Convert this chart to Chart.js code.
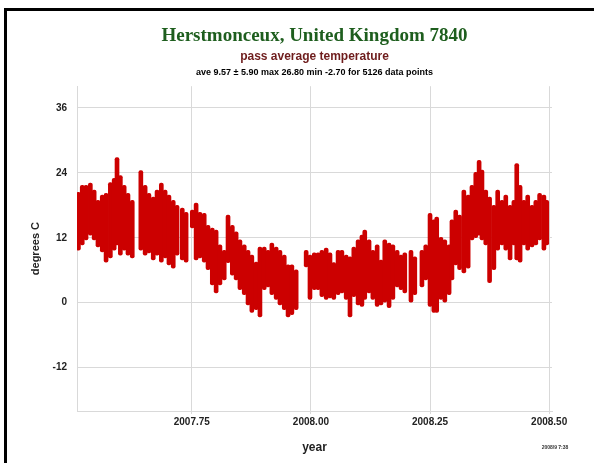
<!DOCTYPE html>
<html>
<head>
<meta charset="utf-8">
<script src="https://cdn.jsdelivr.net/npm/chart.js@4.4.1/dist/chart.umd.min.js"></script>
<style>
  html, body { margin: 0; padding: 0; background: #fff; overflow: hidden; }
  #wrap { position: relative; width: 594px; height: 463px; }
  #frame { position: absolute; left: 4px; top: 8px; width: 700px; height: 600px;
           border-left: 3px solid #000; border-top: 3px solid #000; pointer-events: none; }
</style>
</head>
<body>
<div id="wrap">
  <canvas id="chart" width="594" height="463"></canvas>
  <div id="frame"></div>
</div>
<script>
// decimal year of each column of passes, and the low / high temperature in it (deg C)
var years = [
  2007.512, 2007.520, 2007.528, 2007.537, 2007.545, 2007.553, 2007.562, 2007.570, 2007.579, 2007.587,
  2007.593, 2007.600, 2007.608, 2007.616, 2007.625,
  2007.643, 2007.652, 2007.660, 2007.669, 2007.677, 2007.686, 2007.694, 2007.702, 2007.711, 2007.719,
  2007.730, 2007.738, 2007.751,
  2007.759, 2007.767, 2007.776, 2007.784, 2007.793, 2007.801, 2007.809, 2007.818, 2007.826, 2007.835,
  2007.843, 2007.851, 2007.860, 2007.868, 2007.876, 2007.885, 2007.893, 2007.902, 2007.910, 2007.918,
  2007.927, 2007.935, 2007.944, 2007.952, 2007.960, 2007.969,
  2007.990, 2007.998, 2008.007, 2008.015, 2008.023, 2008.032, 2008.040, 2008.048, 2008.057, 2008.065,
  2008.074, 2008.082, 2008.090, 2008.099, 2008.107, 2008.113, 2008.122, 2008.130, 2008.139, 2008.147,
  2008.155, 2008.164, 2008.172, 2008.181, 2008.189, 2008.197, 2008.210, 2008.218, 2008.233, 2008.241,
  2008.250, 2008.258,
  2008.264, 2008.273, 2008.281, 2008.290, 2008.296, 2008.304, 2008.312, 2008.321, 2008.330, 2008.338,
  2008.346, 2008.353, 2008.359, 2008.367, 2008.375, 2008.384, 2008.392, 2008.401, 2008.409, 2008.418,
  2008.426, 2008.432, 2008.439, 2008.447, 2008.455, 2008.464, 2008.472, 2008.480, 2008.489, 2008.495
];
var lowTemp = [
  9.7, 10.7, 11.6, 12.5, 11.6, 10.3, 9.4, 7.5, 8.3, 9.7,
  10.7, 8.8, 9.7, 8.8, 8.3,
  9.7, 8.8, 9.2, 7.9, 8.8, 7.5, 8.3, 7.0, 6.4, 8.8,
  7.9, 7.5, 13.8,
  7.9, 8.3, 7.5, 6.1, 3.3, 1.8, 3.3, 4.2, 7.4, 5.1,
  4.2, 2.4, 1.5, -0.4, -1.8, -1.3, -2.6, 2.4, 2.9, 1.5,
  0.6, -0.4, -1.3, -2.6, -2.2, -1.3,
  6.6, 0.6, 2.4, 2.4, 1.1, 0.6, 0.9, 0.6, 1.5, 1.8,
  0.6, -2.6, 1.1, -0.4, -0.7, 0.6, 1.8, 0.6, -0.7, -0.4,
  0.0, -0.9, 0.6, 2.9, 2.4, 1.8, 0.0, 1.5, 2.9, 4.2,
  -0.7, -1.8,
  -1.8, 0.6, 0.0, 1.5, 4.2, 7.0, 6.1, 5.5, 6.4, 11.6,
  12.0, 12.5, 11.6, 10.7, 3.7, 6.1, 9.7, 10.7, 9.7, 7.9,
  10.7, 7.9, 7.5, 10.7, 9.7, 10.3, 10.7, 11.6, 9.7, 10.7
];
var highTemp = [
  20.4, 21.7, 21.7, 22.1, 20.8, 18.9, 19.9, 20.2, 22.2, 23.0,
  26.8, 23.5, 21.7, 20.2, 18.9,
  24.4, 21.7, 20.2, 19.5, 20.8, 22.1, 20.8, 19.9, 18.9, 18.0,
  17.5, 16.7, 17.1,
  18.4, 16.7, 16.5, 14.3, 13.8, 13.4, 10.7, 9.7, 16.2, 14.3,
  13.1, 11.6, 10.7, 9.7, 8.8, 7.5, 10.3, 10.3, 9.7, 11.0,
  10.3, 9.7, 8.8, 7.0, 7.0, 6.1,
  9.7, 8.8, 9.2, 9.2, 9.7, 10.1, 9.2, 7.4, 9.7, 9.7,
  8.8, 8.5, 10.3, 11.6, 12.5, 13.4, 11.6, 9.7, 10.7, 7.9,
  11.6, 11.0, 10.7, 9.7, 8.8, 9.2, 9.7, 8.5, 9.7, 10.7,
  16.5, 15.3,
  15.8, 12.1, 11.6, 10.7, 15.3, 17.1, 16.2, 20.8, 19.9, 21.7,
  24.1, 26.3, 24.5, 20.8, 19.5, 18.0, 20.8, 18.9, 19.9, 18.0,
  18.9, 25.7, 21.7, 18.9, 19.9, 18.0, 18.9, 20.2, 19.9, 18.9
];
var yTicks = [-12, 0, 12, 24, 36];
var xTicks = [2007.75, 2008.00, 2008.25, 2008.50];

var titleText = 'Herstmonceux, United Kingdom 7840';
var subtitleText = 'pass average temperature';
var statsText = 'ave 9.57 \u00b1 5.90 max 26.80 min -2.70 for 5126 data points';
var stampText = '2008/9 7:38';

var points = [];
for (let i = 0; i < years.length; i++) {
  points.push({x: years[i], y: [lowTemp[i], highTemp[i]]});
}

// extra lines of text not handled by the title plugin
var extraText = {
  id: 'extraText',
  afterDraw(chart) {
    const ctx = chart.ctx;
    const area = chart.chartArea;
    ctx.save();
    ctx.fillStyle = '#000';
    ctx.textAlign = 'center';
    ctx.textBaseline = 'middle';
    ctx.font = 'bold 9px "Liberation Sans", Arial, sans-serif';
    ctx.fillText(statsText, (area.left + area.right) / 2, 73);
    ctx.font = 'bold 5px "Liberation Sans", Arial, sans-serif';
    ctx.fillStyle = '#333';
    ctx.fillText(stampText, 555, 448);
    ctx.restore();
  }
};

new Chart(document.getElementById('chart'), {
  type: 'bar',
  data: {
    datasets: [{
      label: 'pass average temperature',
      data: points,
      backgroundColor: '#cc0000',
      borderWidth: 0,
      barThickness: 4,
      borderRadius: 2,
      borderSkipped: false
    }]
  },
  options: {
    responsive: false,
    animation: false,
    layout: { padding: { left: 0, right: 42, top: 0, bottom: 0 } },
    plugins: {
      legend: { display: false },
      tooltip: { enabled: false },
      title: {
        display: true,
        text: titleText,
        fullSize: false,
        color: '#1e5e1e',
        font: { family: '"Liberation Serif", "Times New Roman", serif', size: 19, weight: 'bold' },
        padding: { top: 25, bottom: 0 }
      },
      subtitle: {
        display: true,
        text: subtitleText,
        fullSize: false,
        color: '#6e1c1c',
        font: { family: '"Liberation Sans", Arial, sans-serif', size: 12, weight: 'bold' },
        padding: { top: 2, bottom: 22 }
      }
    },
    scales: {
      x: {
        type: 'linear',
        min: 2007.509,
        max: 2008.506,
        offset: false,
        afterBuildTicks: (scale) => { scale.ticks = xTicks.map(v => ({value: v})); },
        afterFit: (scale) => { scale.height = 52; },
        grid: { color: '#d9d9d9', offset: false, tickLength: 3 },
        border: { color: '#d9d9d9' },
        ticks: {
          color: '#222',
          padding: 2,
          maxRotation: 0,
          font: { family: '"Liberation Sans", Arial, sans-serif', size: 10, weight: 'bold' },
          callback: (v) => v.toFixed(2)
        },
        title: {
          display: true,
          text: 'year',
          color: '#222',
          font: { family: '"Liberation Sans", Arial, sans-serif', size: 12, weight: 'bold' },
          padding: { top: 0, bottom: 8 }
        }
      },
      y: {
        min: -20,
        max: 40,
        afterBuildTicks: (scale) => { scale.ticks = yTicks.map(v => ({value: v})); },
        afterFit: (scale) => { scale.width = 77; },
        grid: { color: '#d9d9d9', drawTicks: false },
        border: { color: '#d9d9d9' },
        ticks: {
          color: '#222',
          padding: 10,
          font: { family: '"Liberation Sans", Arial, sans-serif', size: 10, weight: 'bold' }
        },
        title: {
          display: true,
          text: 'degrees C',
          color: '#222',
          font: { family: '"Liberation Sans", Arial, sans-serif', size: 11, weight: 'bold' },
          padding: { top: 29, bottom: 0 }
        }
      }
    }
  },
  plugins: [extraText]
});
</script>
</body>
</html>
